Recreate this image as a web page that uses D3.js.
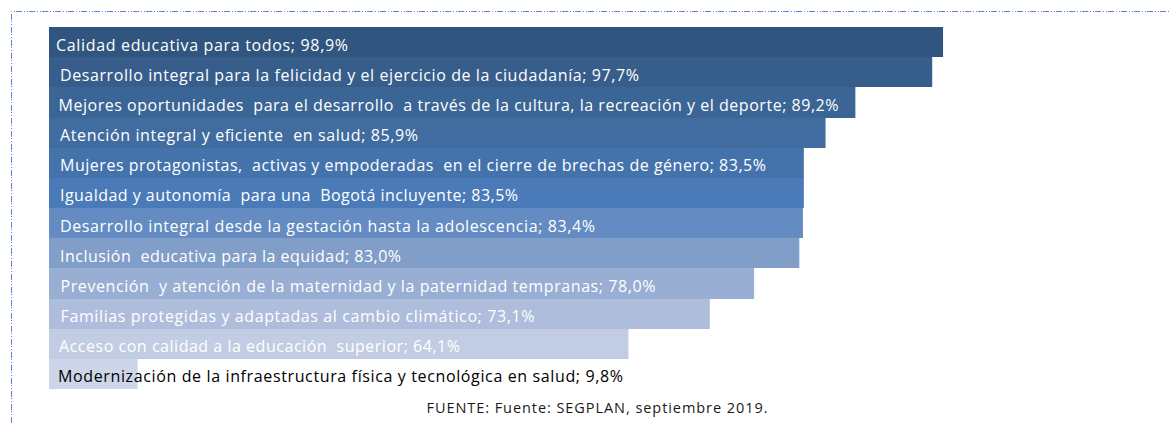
<!DOCTYPE html>
<html>
<head>
  <meta charset="utf-8">
  <style type="text/css">
    body { margin: 0; background: #fff; }
    svg { display: block; }
  </style>
  <script src="https://d3js.org/d3.v7.min.js"></script>
</head>
<body>
  <div id="chart"></div>
  <script type="text/javascript">
    // programas y porcentaje de avance
    var programas = [
      "Calidad educativa para todos",
      "Desarrollo integral para la felicidad y el ejercicio de la ciudadanía",
      "Mejores oportunidades  para el desarrollo  a través de la cultura, la recreación y el deporte",
      "Atención integral y eficiente  en salud",
      "Mujeres protagonistas,  activas y empoderadas  en el cierre de brechas de género",
      "Igualdad y autonomía  para una  Bogotá incluyente",
      "Desarrollo integral desde la gestación hasta la adolescencia",
      "Inclusión  educativa para la equidad",
      "Prevención  y atención de la maternidad y la paternidad tempranas",
      "Familias protegidas y adaptadas al cambio climático",
      "Acceso con calidad a la educación  superior",
      "Modernización de la infraestructura física y tecnológica en salud"
    ];
    var avance = [98.9, 97.7, 89.2, 85.9, 83.5, 83.5, 83.4, 83.0, 78.0, 73.1, 64.1, 9.8];
    var fuente = "FUENTE: Fuente: SEGPLAN, septiembre 2019.";

    // layout
    var colores = ["#30557e", "#375e8a", "#3b6595", "#406c9f", "#4473ac", "#4a7bb8",
                   "#648bc2", "#819ec9", "#98aed2", "#aebddb", "#c2cde3", "#cdd6e8"];
    var labelX = [56, 60, 58.5, 60, 60, 60, 60, 60, 60.5, 60.5, 59, 58];
    var labelW = [292, 579, 780, 358, 706, 458, 535, 341, 595, 474, 401, 565];

    var width = 1171, height = 423;
    var fmt = function(v) { return d3.format(".1f")(v).replace(".", ",") + "%"; };

    var svg = d3.select("#chart").append("svg")
      .attr("width", width)
      .attr("height", height);

    // dashed frame
    svg.append("path")
      .attr("d", "M11.5," + height + "V11.5H" + width)
      .attr("fill", "none")
      .attr("stroke", "#5a86d2")
      .attr("stroke-width", 1)
      .attr("stroke-dasharray", "6,2,1,2,1,1");

    var x = d3.scaleLinear().domain([0, 100]).range([49, 953]);
    var y = d3.scaleBand().domain(programas).range([27, 389]).padding(0);

    svg.selectAll("rect.bar")
      .data(programas)
      .enter().append("rect")
        .attr("class", "bar")
        .attr("x", x(0))
        .attr("y", function(d) { return Math.round(y(d)); })
        .attr("width", function(d, i) { return x(avance[i]) - x(0); })
        .attr("height", function(d) { return Math.round(y(d) + y.bandwidth()) - Math.round(y(d)); })
        .attr("fill", function(d, i) { return colores[i]; });

    svg.selectAll("text.lbl")
      .data(programas)
      .enter().append("text")
        .attr("class", "lbl")
        .attr("x", function(d, i) { return labelX[i]; })
        .attr("y", function(d) { return y(d) + 23.5; })
        .attr("font-family", "'Open Sans', sans-serif")
        .attr("font-size", "16px")
        .attr("fill", function(d, i) { return i === programas.length - 1 ? "#000" : "#fff"; })
        .attr("textLength", function(d, i) { return labelW[i]; })
        .attr("lengthAdjust", "spacing")
        .style("white-space", "pre")
        .text(function(d, i) { return d + "; " + fmt(avance[i]); });

    svg.append("text")
      .attr("x", 597)
      .attr("y", 413)
      .attr("text-anchor", "middle")
      .attr("font-family", "'Open Sans', sans-serif")
      .attr("font-size", "14.5px")
      .attr("fill", "#1a1a1a")
      .attr("textLength", 341)
      .attr("lengthAdjust", "spacing")
      .text(fuente);
  </script>
</body>
</html>
